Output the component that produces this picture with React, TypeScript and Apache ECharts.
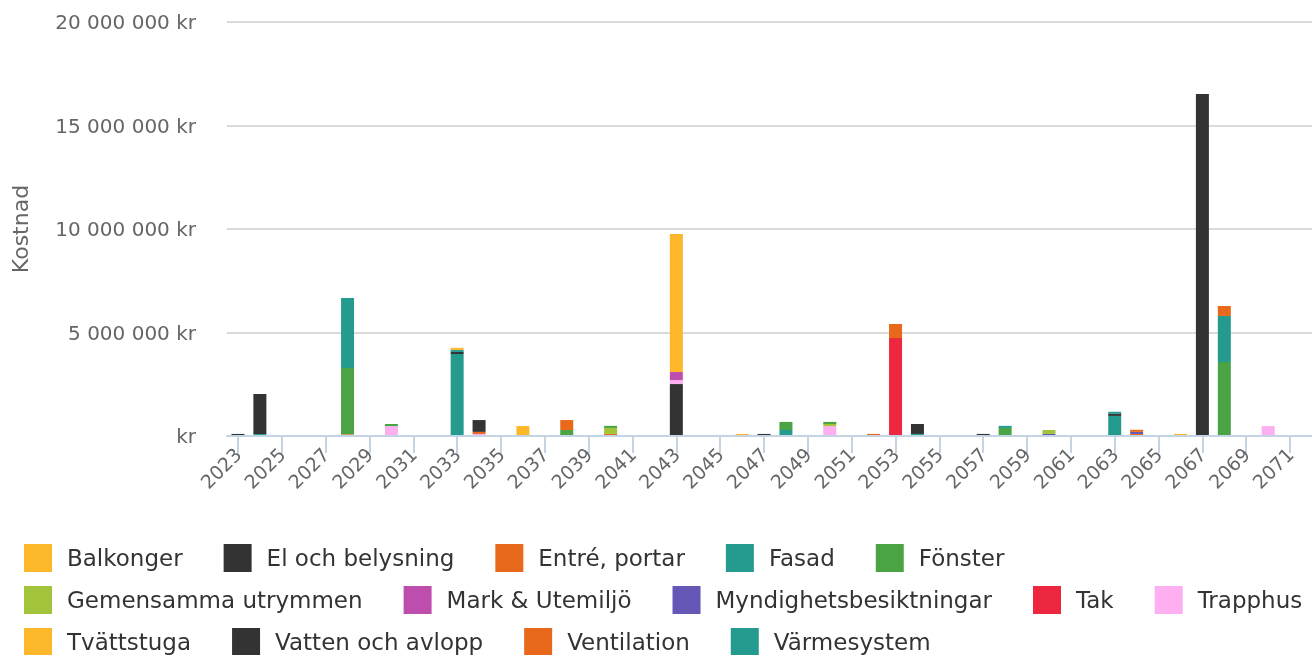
import { useEffect, useRef } from "react";
import * as echarts from "echarts";

// Categories (years)
const years: string[] = [
  "2023", "2024", "2025", "2026", "2027", "2028", "2029", "2030", "2031", "2032",
  "2033", "2034", "2035", "2036", "2037", "2038", "2039", "2040", "2041", "2042",
  "2043", "2044", "2045", "2046", "2047", "2048", "2049", "2050", "2051", "2052",
  "2053", "2054", "2055", "2056", "2057", "2058", "2059", "2060", "2061", "2062",
  "2063", "2064", "2065", "2066", "2067", "2068", "2069", "2070", "2071",
];
// Tick labels shown on the x axis (every other year)
const labelYears: number[] = [
  2023, 2025, 2027, 2029, 2031, 2033, 2035, 2037, 2039, 2041, 2043, 2045, 2047,
  2049, 2051, 2053, 2055, 2057, 2059, 2061, 2063, 2065, 2067, 2069, 2071,
];
const yTicks = { min: 0, max: 20000000, interval: 5000000 };

// Series values: [year, kostnad i kr]
const balkonger: [string, number][] = [["2033", 100000], ["2043", 6670000]];
const elOchBelysning: [string, number][] = [["2034", 570000]];
const entrePortar: [string, number][] = [["2034", 100000], ["2038", 480000], ["2053", 680000], ["2064", 100000], ["2068", 480000]];
const fasad: [string, number][] = [["2028", 3380000], ["2033", 100000], ["2058", 100000], ["2063", 100000], ["2068", 2230000]];
const fonster: [string, number][] = [["2028", 3210000], ["2030", 100000], ["2038", 290000], ["2040", 100000], ["2048", 390000], ["2050", 100000], ["2058", 390000], ["2068", 3570000]];
const gemensamma: [string, number][] = [["2040", 290000], ["2050", 100000], ["2060", 190000]];
const markUtemiljo: [string, number][] = [["2043", 390000]];
const myndighet: [string, number][] = [["2060", 100000], ["2064", 100000]];
const tak: [string, number][] = [["2053", 4730000]];
const trapphus: [string, number][] = [["2030", 480000], ["2034", 100000], ["2043", 190000], ["2050", 480000], ["2070", 480000]];
const tvattstuga: [string, number][] = [["2036", 480000], ["2046", 100000], ["2066", 100000]];
const vattenAvlopp: [string, number][] = [["2023", 100000], ["2024", 1930000], ["2033", 100000], ["2043", 2510000], ["2047", 100000], ["2054", 480000], ["2057", 100000], ["2063", 100000], ["2067", 16520000]];
const ventilation: [string, number][] = [["2028", 80000], ["2040", 100000], ["2052", 100000], ["2064", 100000]];
const varmesystem: [string, number][] = [["2024", 100000], ["2033", 3960000], ["2048", 290000], ["2054", 100000], ["2063", 970000]];

// Stacking order bottom -> top
const seriesDefs: { name: string; values: [string, number][]; color: string }[] = [
  { name: "Värmesystem", values: varmesystem, color: "#259B90" },
  { name: "Ventilation", values: ventilation, color: "#E8691B" },
  { name: "Vatten och avlopp", values: vattenAvlopp, color: "#333333" },
  { name: "Tvättstuga", values: tvattstuga, color: "#FDB72B" },
  { name: "Trapphus", values: trapphus, color: "#FEAFEF" },
  { name: "Tak", values: tak, color: "#EE2740" },
  { name: "Myndighetsbesiktningar", values: myndighet, color: "#6457B6" },
  { name: "Mark & Utemiljö", values: markUtemiljo, color: "#BE4EAE" },
  { name: "Gemensamma utrymmen", values: gemensamma, color: "#A1C43A" },
  { name: "Fönster", values: fonster, color: "#4AA444" },
  { name: "Fasad", values: fasad, color: "#259B90" },
  { name: "Entré, portar", values: entrePortar, color: "#E8691B" },
  { name: "El och belysning", values: elOchBelysning, color: "#333333" },
  { name: "Balkonger", values: balkonger, color: "#FDB72B" },
];

const legendRows: string[][] = [
  ["Balkonger", "El och belysning", "Entré, portar", "Fasad", "Fönster"],
  ["Gemensamma utrymmen", "Mark & Utemiljö", "Myndighetsbesiktningar", "Tak", "Trapphus"],
  ["Tvättstuga", "Vatten och avlopp", "Ventilation", "Värmesystem"],
];

const FONT = "DejaVu Sans";
const W = 1312;
const GRID_LEFT = 227;
const GRID_TOP = 22;
const GRID_H = 414;
const AXIS_W = W - GRID_LEFT;
// the axis reaches half a category past the last year
const BAND = AXIS_W / (years.length + 0.5);

function formatKr(v: number): string {
  if (v === 0) return "kr";
  return String(v).replace(/\B(?=(\d{3})+(?!\d))/g, " ") + " kr";
}

export default function App() {
  const ref = useRef<HTMLDivElement>(null);
  useEffect(() => {
    if (!ref.current) return;
    const chart = echarts.init(ref.current, undefined, { renderer: "svg" });
    const series = seriesDefs.map((s) => {
      const map = new Map(s.values);
      return {
        name: s.name,
        type: "bar",
        stack: "total",
        barWidth: 13,
        xAxisIndex: 1,
        yAxisIndex: 1,
        itemStyle: { color: s.color },
        data: years.map((y) => map.get(y) ?? 0),
      };
    });
    const firstYear = Number(years[0]);
    chart.setOption({
      animation: false,
      textStyle: { fontFamily: FONT },
      grid: [
        { left: GRID_LEFT, width: AXIS_W, top: GRID_TOP, height: GRID_H },
        { left: GRID_LEFT, width: BAND * years.length, top: GRID_TOP, height: GRID_H },
      ],
      xAxis: [
        {
          gridIndex: 0,
          type: "value",
          z: 5,
          min: firstYear - 0.5,
          max: firstYear + years.length,
          splitLine: { show: false },
          axisLine: { show: true, lineStyle: { color: "#C5D4E4", width: 2 } },
          axisTick: {
            show: true,
            customValues: labelYears,
            length: 17,
            lineStyle: { color: "#C5D4E4", width: 2 },
          },
          axisLabel: {
            customValues: labelYears,
            rotate: 45,
            fontSize: 19,
            color: "#666666",
            margin: 15,
            fontFamily: FONT,
            formatter: (v: number) => String(v),
          },
        },
        {
          gridIndex: 1,
          type: "category",
          data: years,
          show: false,
        },
      ],
      yAxis: [
        {
          gridIndex: 0,
          type: "value",
          min: yTicks.min,
          max: yTicks.max,
          interval: yTicks.interval,
          name: "Kostnad",
          nameLocation: "middle",
          nameGap: 196,
          nameTextStyle: { fontSize: 22, color: "#666666", fontFamily: FONT },
          axisLine: { show: false },
          axisTick: { show: false },
          splitLine: { lineStyle: { color: "#DADADA", width: 2 } },
          axisLabel: {
            fontSize: 20,
            color: "#666666",
            margin: 31,
            fontFamily: FONT,
            formatter: formatKr,
          },
        },
        {
          gridIndex: 1,
          type: "value",
          min: yTicks.min,
          max: yTicks.max,
          interval: yTicks.interval,
          show: false,
          splitLine: { show: false },
        },
      ],
      legend: legendRows.map((row, i) => ({
        data: row,
        left: 24,
        top: 544 + i * 42,
        orient: "horizontal",
        icon: "rect",
        itemWidth: 28,
        itemHeight: 28,
        itemGap: 41,
        selectedMode: false,
        padding: 0,
        textStyle: { fontSize: 23, color: "#333333", fontFamily: FONT, padding: [0, 0, 0, 10] },
      })),
      series,
    });
    return () => chart.dispose();
  }, []);
  return (
    <div
      ref={ref}
      style={{ position: "fixed", left: 0, top: 0, width: W, height: 655 }}
    />
  );
}
